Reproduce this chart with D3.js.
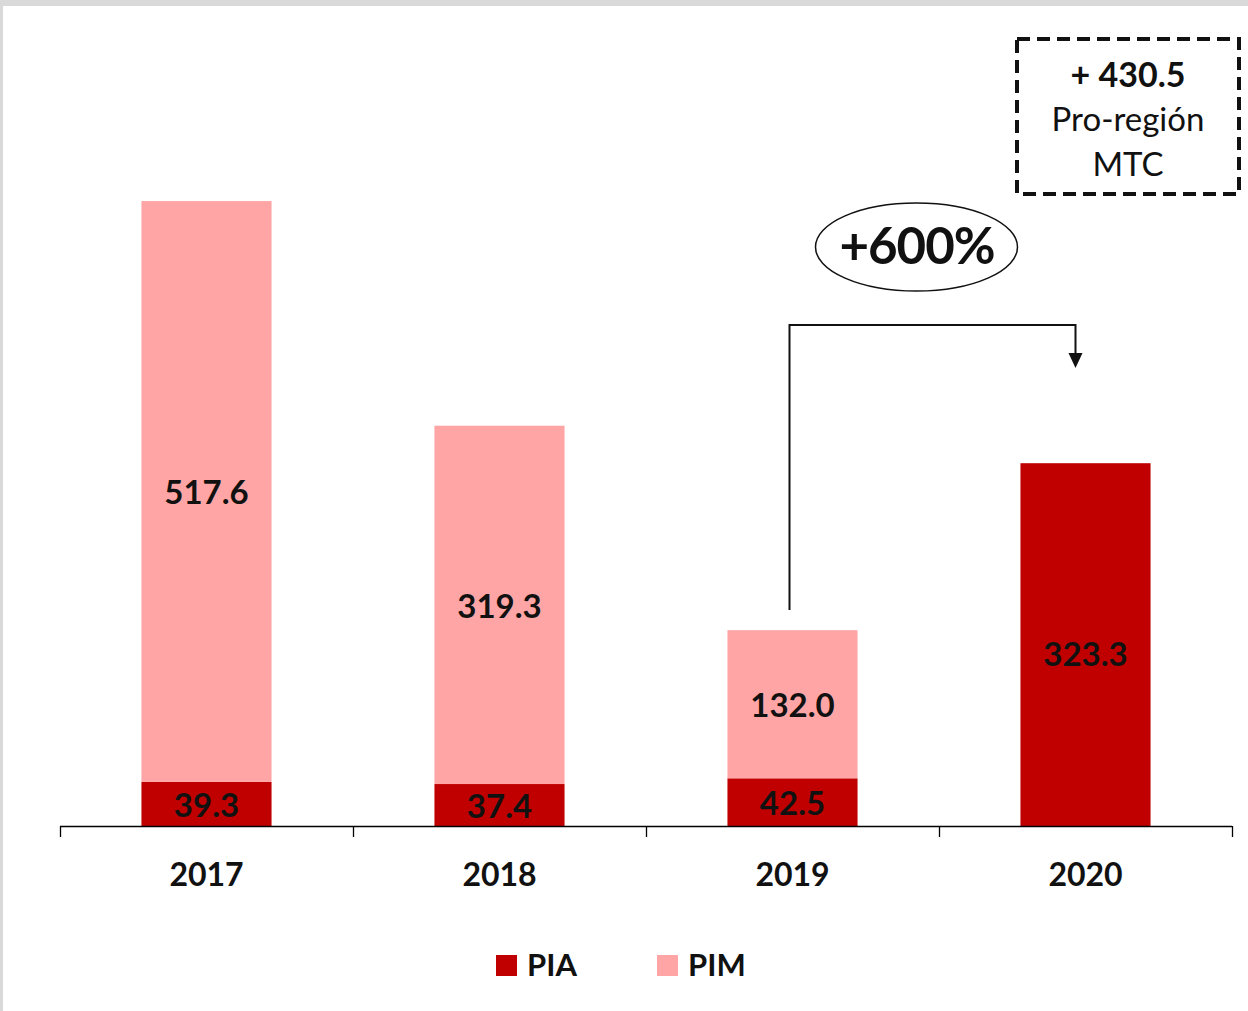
<!DOCTYPE html>
<html><head><meta charset="utf-8">
<script src="https://cdn.jsdelivr.net/npm/d3@7"></script>
<style>
html,body{margin:0;padding:0;background:#fff;}
svg{display:block;font-family:Lato,"Open Sans",sans-serif;}
</style></head>
<body>
<svg id="c" width="1248" height="1011"></svg>
<script>
const years = ["2017","2018","2019","2020"];
const pia = [39.3, 37.4, 42.5, 323.3];
const pim = [517.6, 319.3, 132.0, 0];
const seriesNames = ["PIA","PIM"];
const seriesColors = ["#C00000","#FFA5A5"];
const boxLines = ["+ 430.5","Pro-región","MTC"];
const growthLabel = "+600%";

const svg = d3.select("#c");
// frame
svg.append("rect").attr("x",0).attr("y",0).attr("width",1248).attr("height",1011).attr("fill","#d9d9d9");
svg.append("rect").attr("x",3).attr("y",6).attr("width",1245).attr("height",1005).attr("fill","#fff");

const x = d3.scaleBand().domain(years).range([60,1232]).paddingInner(0.556).paddingOuter(0.278);
const y = d3.scaleLinear().domain([0,600]).range([826,152.7]);

const rows = years.map((yr,i)=>({year:yr, PIA:pia[i], PIM:pim[i]}));
const stack = d3.stack().keys(seriesNames)(rows);

const g = svg.append("g");
stack.forEach((s,si)=>{
  g.selectAll(null).data(s.filter(d=>d[1]-d[0]>0)).enter().append("rect")
    .attr("x",d=>x(d.data.year)).attr("width",x.bandwidth())
    .attr("y",d=>y(d[1])).attr("height",d=>y(d[0])-y(d[1]))
    .attr("fill",seriesColors[si]);
  g.selectAll(null).data(s.filter(d=>d[1]-d[0]>0)).enter().append("text")
    .attr("x",d=>x(d.data.year)+x.bandwidth()/2)
    .attr("y",d=>(y(d[0])+y(d[1]))/2 + (d.data.PIM===0 ? 10 : 1))
    .attr("dy","0.36em").attr("text-anchor","middle")
    .attr("font-size",33).attr("font-weight","bold").attr("fill","#111")
    .text(d=>(d[1]-d[0]).toFixed(1));
});

// axis
const step = x.step();
const edges = d3.range(years.length+1).map(i=>60+i*step);
const ax = svg.append("g");
ax.append("line").attr("x1",60).attr("x2",1232).attr("y1",y(0)+0.5).attr("y2",y(0)+0.5).attr("stroke","#000").attr("stroke-width",1.5);
ax.selectAll(null).data(edges).enter().append("line")
  .attr("x1",d=>d+0.5).attr("x2",d=>d+0.5).attr("y1",y(0)).attr("y2",y(0)+11)
  .attr("stroke","#000").attr("stroke-width",1.3);
ax.selectAll(null).data(years).enter().append("text")
  .attr("x",d=>x(d)+x.bandwidth()/2).attr("y",886)
  .attr("text-anchor","middle").attr("font-size",32).attr("font-weight","bold").attr("fill","#111")
  .text(d=>d);

// legend
const legX = [496,657];
seriesNames.forEach((n,i)=>{
  svg.append("rect").attr("x",legX[i]).attr("y",955).attr("width",21).attr("height",21).attr("fill",seriesColors[i]);
  svg.append("text").attr("x",legX[i]+31).attr("y",976).attr("font-size",31).attr("font-weight","bold").attr("fill","#111").text(n);
});

// dashed box
svg.append("rect").attr("x",1017).attr("y",39).attr("width",222).attr("height",155)
  .attr("fill","none").attr("stroke","#111").attr("stroke-width",4).attr("stroke-dasharray","13,7");
boxLines.forEach((t,i)=>{
  svg.append("text").attr("x",1128).attr("y",[87,131,176][i]).attr("text-anchor","middle")
    .attr("font-size",i===0?34:33).attr("font-weight",i===0?"bold":"normal").attr("fill","#111").text(t);
});

// ellipse
svg.append("ellipse").attr("cx",916.5).attr("cy",247).attr("rx",101).attr("ry",44)
  .attr("fill","#fff").attr("stroke","#111").attr("stroke-width",1.5);
svg.append("text").attr("x",917).attr("y",264).attr("text-anchor","middle")
  .attr("font-size",51).attr("font-weight","bold").attr("fill","#111").attr("letter-spacing",-1).text(growthLabel);

// connector
const cx1 = x("2019")+x.bandwidth()/2-3, cx2 = x("2020")+x.bandwidth()/2-10;
svg.append("path").attr("d",`M${cx1},610 V325 H${cx2} V355`).attr("fill","none").attr("stroke","#111").attr("stroke-width",2);
svg.append("path").attr("d",`M${cx2-7},353 L${cx2+7},353 L${cx2},368 Z`).attr("fill","#111");
</script>
</body></html>
